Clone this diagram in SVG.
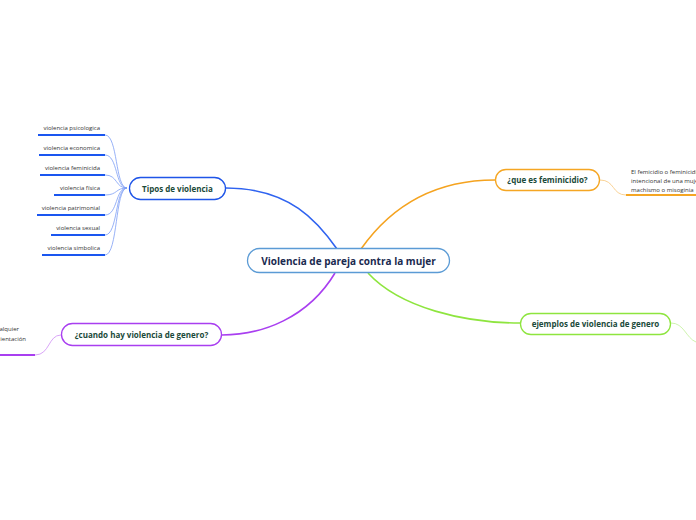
<svg xmlns="http://www.w3.org/2000/svg" width="696" height="520" viewBox="0 0 696 520">
<style>
.t{font-family:"Open Sans","Liberation Sans",sans-serif;}
.main{font-size:10px;font-weight:bold;fill:#1a2a4f;}
.n{font-size:8px;font-weight:bold;fill:#1b4a3a;}
.s{font-size:6px;fill:#333;}
.sub{fill:none;stroke:#1a56f0;stroke-width:2;}
.c{fill:none;}
</style>
<rect width="696" height="520" fill="#fff"/>
<g id="connectors">
<path class="c" d="M226,188 C290,188 318,222 337,249" stroke="#2f63f0" stroke-width="1.6"/>
<path class="c" d="M361,249 C392,205 435,180 495,180" stroke="#f5a31f" stroke-width="1.6"/>
<path class="c" d="M368,273 C400,308 465,323 520,323" stroke="#8ee53f" stroke-width="1.6"/>
<path class="c" d="M335,273 C308,318 262,335 222,335" stroke="#a93ff0" stroke-width="1.6"/>
<g stroke="#7d9ef5" stroke-width="0.8" fill="none">
<path d="M105,135 C118,135 115,188 127,188"/>
<path d="M105,155 C118,155 115,188 127,188"/>
<path d="M105,175 C118,175 115,188 127,188"/>
<path d="M105,195 C118,195 115,188 127,188"/>
<path d="M105,215 C118,215 115,188 127,188"/>
<path d="M105,235 C118,235 115,188 127,188"/>
<path d="M105,255 C118,255 115,188 127,188"/>
</g>
<path class="c" d="M600,180 C615,180 612,195 626,195" stroke="#f8c77a" stroke-width="0.8"/>
<path class="c" d="M671,323 C684,323 686,338 696,342" stroke="#c2f09a" stroke-width="0.8"/>
<path class="c" d="M61,335 C48,335 50,355 35,355" stroke="#cf8ef5" stroke-width="0.8"/>
</g>
<g id="central">
<rect x="247.5" y="248.5" width="202" height="24" rx="12" fill="#fff" stroke="#5b9bd5" stroke-width="1.3"/>
<text class="t main" x="348.5" y="264.5" text-anchor="middle">Violencia de pareja contra la mujer</text>
</g>
<g id="tipos">
<rect x="129.5" y="177.5" width="96" height="22" rx="11" fill="#fff" stroke="#1f55e8" stroke-width="1.3"/>
<text class="t n" x="177.5" y="191.5" text-anchor="middle">Tipos de violencia</text>
</g>
<g id="psicologica"><text class="t s" x="100" y="130" text-anchor="end">violencia psicologica</text><line class="sub" x1="38" y1="135" x2="105" y2="135"/></g>
<g id="economica"><text class="t s" x="100" y="150" text-anchor="end">violencia economica</text><line class="sub" x1="39" y1="155" x2="105" y2="155"/></g>
<g id="feminicida"><text class="t s" x="100" y="170" text-anchor="end">violencia feminicida</text><line class="sub" x1="40" y1="175" x2="105" y2="175"/></g>
<g id="fisica"><text class="t s" x="100" y="190" text-anchor="end">violencia física</text><line class="sub" x1="54" y1="195" x2="105" y2="195"/></g>
<g id="patrimonial"><text class="t s" x="100" y="210" text-anchor="end">violencia patrimonial</text><line class="sub" x1="37" y1="215" x2="105" y2="215"/></g>
<g id="sexual"><text class="t s" x="100" y="230" text-anchor="end">violencia sexual</text><line class="sub" x1="51" y1="235" x2="105" y2="235"/></g>
<g id="simbolica"><text class="t s" x="100" y="250" text-anchor="end">violencia simbolica</text><line class="sub" x1="42" y1="255" x2="105" y2="255"/></g>
<g id="feminicidio">
<rect x="495.5" y="169.5" width="104" height="21" rx="10.5" fill="#fff" stroke="#f5a623" stroke-width="1.3"/>
<text class="t n" x="547.5" y="183" text-anchor="middle">¿que es feminicidio?</text>
</g>
<g id="feminicidio-texto">
<text class="t s" x="631" y="174">El femicidio o feminicidi</text>
<text class="t s" x="631" y="183">intencional de una muje</text>
<text class="t s" x="631" y="192">machismo o misoginia</text>
<line x1="626" y1="195" x2="696" y2="195" stroke="#f5a623" stroke-width="2"/>
</g>
<g id="ejemplos">
<rect x="520.5" y="313.5" width="150" height="21" rx="10.5" fill="#fff" stroke="#8ee53f" stroke-width="1.3"/>
<text class="t n" x="595.5" y="327" text-anchor="middle">ejemplos de violencia de genero</text>
</g>
<g id="cuando">
<rect x="61.5" y="323.5" width="160" height="22" rx="11" fill="#fff" stroke="#a93ff0" stroke-width="1.3"/>
<text class="t n" x="141.5" y="337.5" text-anchor="middle">¿cuando hay violencia de genero?</text>
</g>
<g id="cuando-texto">
<text class="t s" x="19" y="331" text-anchor="end">alquier</text>
<text class="t s" x="26" y="341" text-anchor="end">ientación</text>
<line x1="0" y1="355" x2="35" y2="355" stroke="#a93ff0" stroke-width="2"/>
</g>
</svg>
